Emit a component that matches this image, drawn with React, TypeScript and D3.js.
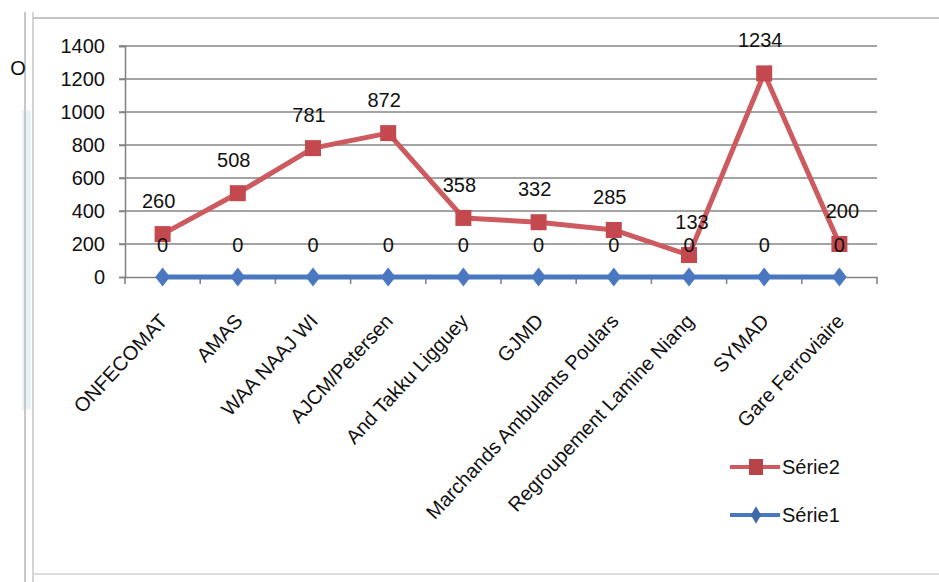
import React, { useEffect, useRef } from 'react';
import * as d3 from 'd3';

const categories = [
    'ONFECOMAT',
    'AMAS',
    'WAA NAAJ WI',
    'AJCM/Petersen',
    'And Takku Ligguey',
    'GJMD',
    'Marchands Ambulants Poulars',
    'Regroupement Lamine  Niang',
    'SYMAD',
    'Gare Ferroviaire',
];
const serie1 = [0, 0, 0, 0, 0, 0, 0, 0, 0, 0];
const serie2 = [260, 508, 781, 872, 358, 332, 285, 133, 1234, 200];
const yTicks = [0, 200, 400, 600, 800, 1000, 1200, 1400];

const App = () => {
    const svgRef = useRef<SVGSVGElement>(null);

    useEffect(() => {
        const width = 939;
        const height = 582;
        const margin = { top: 46, right: 62, bottom: 305, left: 125 };
        const font = '"Liberation Sans", Arial, sans-serif';

        const svg = d3.select(svgRef.current)
            .attr('width', width)
            .attr('height', height)
            .style('display', 'block')
            .style('position', 'absolute')
            .style('left', '0px')
            .style('top', '0px')
            .style('background', '#fff');
        svg.selectAll('*').remove();

        // frame (scanned sheet border)
        svg.append('rect').attr('x', 22).attr('y', 110).attr('width', 9).attr('height', 300).attr('fill', '#eaf1f8');
        svg.append('line').attr('x1', 25).attr('x2', 25).attr('y1', 12).attr('y2', 582).attr('stroke', '#c8c8c8').attr('stroke-width', 2);
        svg.append('line').attr('x1', 33).attr('x2', 33).attr('y1', 12).attr('y2', 582).attr('stroke', '#d4d4d4').attr('stroke-width', 2);
        svg.append('line').attr('x1', 33).attr('x2', width).attr('y1', 18).attr('y2', 18).attr('stroke', '#c4c4c4').attr('stroke-width', 2);
        svg.append('line').attr('x1', 33).attr('x2', width).attr('y1', 574).attr('y2', 574).attr('stroke', '#dcdcdc').attr('stroke-width', 2);

        svg.append('text')
            .attr('x', 18).attr('y', 68).attr('dy', '0.35em')
            .attr('text-anchor', 'middle')
            .style('font-family', font).style('font-size', '20px').attr('fill', '#111')
            .text('O');

        const x = d3.scaleBand()
            .domain(categories)
            .range([margin.left, width - margin.right]);

        const y = d3.scaleLinear()
            .domain([0, 1400])
            .range([height - margin.bottom, margin.top]);

        const cx = (d: string) => (x(d) as number) + x.bandwidth() / 2;

        // gridlines
        svg.append('g')
            .selectAll('line')
            .data(yTicks.filter(t => t > 0))
            .enter()
            .append('line')
            .attr('x1', margin.left - 6)
            .attr('x2', width - margin.right)
            .attr('y1', d => y(d))
            .attr('y2', d => y(d))
            .attr('stroke', '#858585')
            .attr('stroke-width', 1.6);

        // y axis
        const yAxis = svg.append('g')
            .attr('transform', `translate(${margin.left},0)`)
            .call(d3.axisLeft(y).tickValues(yTicks).tickSize(6).tickPadding(14).tickFormat(d3.format('d')));
        yAxis.select('.domain').attr('stroke', '#858585').attr('stroke-width', 1.6);
        yAxis.selectAll('.tick line').attr('stroke', '#858585').attr('stroke-width', 1.6);
        yAxis.selectAll('.tick text')
            .style('font-family', font).style('font-size', '20px').attr('fill', '#111');

        // x axis
        const xAxis = svg.append('g')
            .attr('transform', `translate(0,${y(0)})`)
            .call(d3.axisBottom(x).tickSize(0).tickFormat(() => ''));
        xAxis.select('.domain').attr('stroke', '#858585').attr('stroke-width', 1.6);
        svg.append('g')
            .selectAll('line')
            .data(d3.range(categories.length + 1))
            .enter()
            .append('line')
            .attr('x1', i => margin.left + i * x.step())
            .attr('x2', i => margin.left + i * x.step())
            .attr('y1', y(0))
            .attr('y2', y(0) + 7)
            .attr('stroke', '#858585')
            .attr('stroke-width', 1.6);

        svg.append('g')
            .selectAll('text')
            .data(categories)
            .enter()
            .append('text')
            .attr('transform', d => `translate(${cx(d) + 6},${y(0) + 45}) rotate(-47)`)
            .attr('text-anchor', 'end')
            .style('font-family', font).style('font-size', '20px').attr('fill', '#111')
            .text(d => d);

        const line = d3.line<number>()
            .x((d, i) => cx(categories[i]))
            .y(d => y(d));

        // Série2
        svg.append('path')
            .datum(serie2)
            .attr('d', line)
            .attr('fill', 'none')
            .attr('stroke', '#cd5a5e')
            .attr('stroke-width', 5)
            .attr('stroke-linejoin', 'round');
        svg.append('g')
            .selectAll('rect')
            .data(serie2)
            .enter()
            .append('rect')
            .attr('x', (d, i) => cx(categories[i]) - 8)
            .attr('y', d => y(d) - 8)
            .attr('width', 16)
            .attr('height', 16)
            .attr('fill', '#c4494f');

        // Série1
        svg.append('path')
            .datum(serie1)
            .attr('d', line)
            .attr('fill', 'none')
            .attr('stroke', '#4a78c0')
            .attr('stroke-width', 5);
        svg.append('g')
            .selectAll('path')
            .data(serie1)
            .enter()
            .append('path')
            .attr('d', d3.symbol().type(d3.symbolDiamond).size(130))
            .attr('transform', (d, i) => `translate(${cx(categories[i])},${y(d)}) scale(1.2,0.9)`)
            .attr('fill', '#4a78c0');

        // data labels
        const labelStyle = (sel: any) => sel
            .attr('text-anchor', 'middle')
            .attr('dy', '0.35em')
            .style('font-family', font).style('font-size', '20px').attr('fill', '#111');

        svg.append('g')
            .selectAll('text')
            .data(serie2)
            .enter()
            .append('text')
            .attr('x', (d, i) => cx(categories[i]) + (i >= 7 && i !== 8 ? 3 : -4))
            .attr('y', d => y(d) - 33)
            .call(labelStyle)
            .text(d => d);

        svg.append('g')
            .selectAll('text')
            .data(serie1)
            .enter()
            .append('text')
            .attr('x', (d, i) => cx(categories[i]))
            .attr('y', d => y(d) - 32)
            .call(labelStyle)
            .text(d => d);

        // legend
        const legend = svg.append('g').attr('transform', 'translate(730,467)');
        const items = [
            { name: 'Série2', color: '#cd5a5e', marker: 'square' },
            { name: 'Série1', color: '#4a78c0', marker: 'diamond' },
        ];
        items.forEach((it, i) => {
            const g = legend.append('g').attr('transform', `translate(0,${i * 48})`);
            g.append('line').attr('x1', 0).attr('x2', 50).attr('y1', 0).attr('y2', 0)
                .attr('stroke', it.color).attr('stroke-width', 4);
            if (it.marker === 'square') {
                g.append('rect').attr('x', 19).attr('y', -8).attr('width', 14).attr('height', 16).attr('fill', '#b8444a');
            } else {
                g.append('path').attr('d', d3.symbol().type(d3.symbolDiamond).size(90))
                    .attr('transform', 'translate(26,0)').attr('fill', '#3f6aa8');
            }
            g.append('text').attr('x', 52).attr('y', 0).attr('dy', '0.35em')
                .style('font-family', font).style('font-size', '20px').attr('fill', '#111')
                .text(it.name);
        });
    });

    return <svg ref={svgRef}></svg>;
};

export default App;
